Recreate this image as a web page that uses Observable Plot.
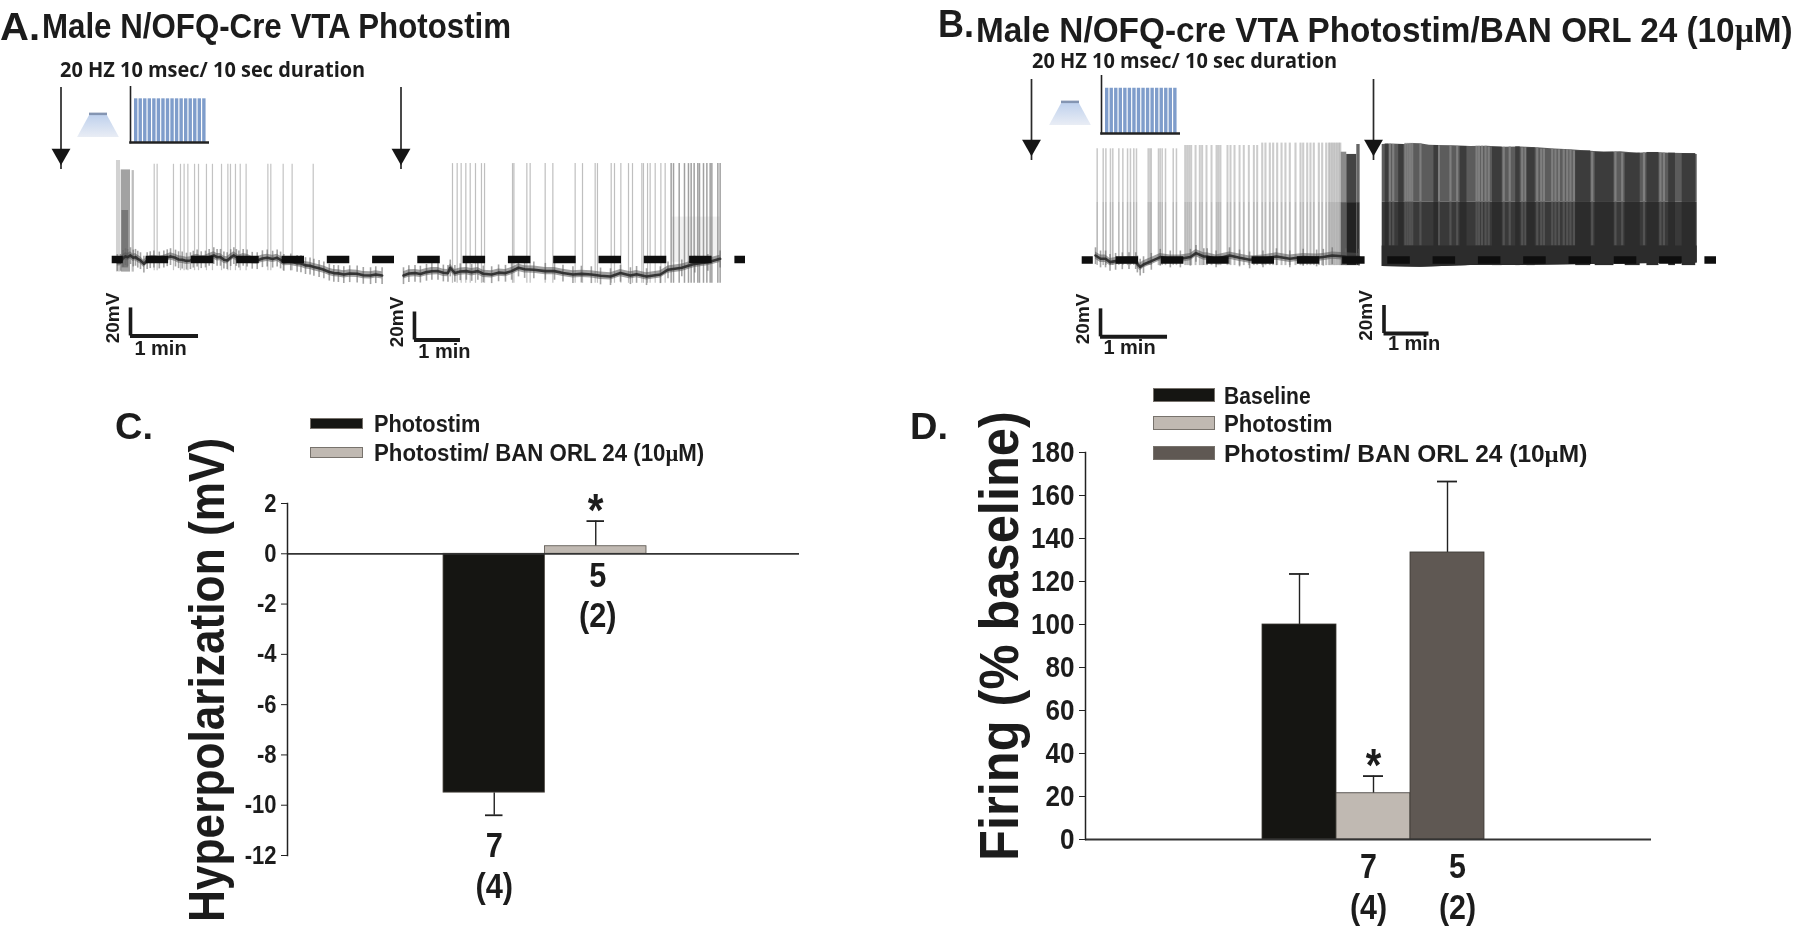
<!DOCTYPE html>
<html><head><meta charset="utf-8">
<script src="https://cdn.jsdelivr.net/npm/d3@7"></script>
<script src="https://cdn.jsdelivr.net/npm/@observablehq/plot@0.6"></script>
<style>
html,body{margin:0;background:#fff;overflow:hidden}
#fig{position:relative;width:1800px;height:931px;overflow:hidden;color:#1c1c1c;font-family:"Liberation Sans",sans-serif;filter:blur(.4px)}
#fig svg{position:absolute}
.t{position:absolute;white-space:nowrap;line-height:1;font-weight:bold}
.sw{position:absolute;box-sizing:border-box}
</style></head><body><div id="fig"></div>
<script>
// ---------- Panel A data (seconds, mV) ----------
const aLeftSpikes=[31.5,34.1,48.5,54.7,57.9,61.2,67.1,70.6,77.6,82.9,90.9,96.5,98.8,103.2,107.4,112.6,131.8,134.4,145.3,153.2,171.8];
const aLeftBaseT=[-1,1.8,4,6.2,8,10.6,13,15,17,19.4,22.4,25.3,28,31.2,36,40,43,45.9,50.3,53,56.2,60,63.5,66,69.4,73,76.8,80,84.1,87,90,93,95.9,99,101.8,104,106.2,110,113.5,118,122.4,127,131.2,136,140,143,145.9,152,157.6,161,165,169,172.4,177,181.2,186,190,194,198.8,204,210.6,216,222.4,227,232.6];
const aLeftBaseV=[-62,-61.9,-59,-57.8,-58.4,-57.1,-58.8,-58.3,-59.6,-60.7,-63.1,-60.7,-60,-59.5,-60.2,-59.5,-58.6,-57.8,-58.8,-60,-60.2,-61,-60.7,-59.6,-58.8,-60,-59.5,-58.3,-57.1,-58.4,-58.3,-60.2,-60.7,-58.5,-57.1,-58.4,-59.5,-58.4,-58.8,-60.4,-60.7,-59.3,-58.8,-59.6,-58.8,-60.2,-61.9,-61.6,-62.6,-62.9,-64.2,-64.5,-65.4,-66.3,-67.3,-68.9,-69.7,-69.9,-70.7,-70,-70.2,-71.2,-71.4,-70.7,-71.4];
const aLeftBurst=[{t1:-1.8,t2:1.8,top:10.7,shade:"#d2d2d2"},{t1:2.4,t2:10.6,top:4,shade:"#a2a2a2"},{t1:12,t2:14,top:3.5,shade:"#bdbdbd"}];
const aLeftBurstCore=[{t1:3,t2:9,top:-25,shade:"#777"}];
const aRightSpikes=[63.9,70,75.2,81.3,87,93.9,101.7,105.7,142.2,144,160.9,165.2,184.8,194.8,223.9,233.5,250,253,270.9,275.2,283.5,293.5,298.7,310.9,313,318.3,321.7,328.3,335.7,341.3];
const aRightDense=[349.1,352.2,359.6,366.5,371.7,375.2,379.1,383.9,386.1,391.3,395.7,400,402.2,410,413];
const aRightBaseT=[0,7,15,22,30,37,45,52,58,61,67,74,82,89,97,104,115,124,133,141,150,158,170,185,197,208,221,232,245,257,270,283,296,304,317,335,345,363,380,397,413];
const aRightBaseV=[-71.4,-70,-69.7,-70.3,-69,-68.4,-68.3,-69.5,-69.7,-65.9,-69.7,-68.6,-68.3,-69.1,-68.3,-70.2,-70.7,-69.4,-69.7,-68.3,-65.9,-67,-67.3,-68.3,-68.3,-69.6,-70.7,-70.3,-70.7,-71.6,-72.1,-69.7,-71.4,-70.5,-72.1,-70.7,-67.3,-65.9,-63.1,-61.9,-59.5];
const aRightHaze=[{t1:350,t2:413}];

// ---------- Panel B data (seconds, mV) ----------
const bLeftEarly=[1.5,6.9,9.3,13.4,15.5,20.9,24.5,28.7,31.3,34.3,36.7,47.2,48.7,49.9,56.4,57.9,59.7,62.7,69.6,72.5];
const bLeftMid=[80.3,82.1,83.9,85.7,89.6,93.4,95.5,99.4,103.9,108.4,110.1,111.9,118.2,120.9,124.5,129,132.8,137.3,141.8,144.8];
const bLeftLate=[149.3,152.2,156.1,159.1,162.7,166.6,170.1,174,179.1,183.6,186,189.6,192.5,195.5,200,203,206.6,209,210.4,211.9,213.4,214.9,216.4,217.9,219.2];
const bLeftBaseT=[0,4.5,9,13,18,24,30,36,37.5,40,43,50,58,67,76,85,90,97,100,108,120,129,138,150,162,174,186,198,204,212,224,236];
const bLeftBaseV=[-56.8,-59.1,-59.1,-61.5,-60.8,-60.4,-60.3,-60.3,-62.7,-65,-63.2,-60.8,-57.9,-59.1,-59.1,-57.9,-55.1,-57.5,-57.5,-59.1,-56.8,-58.4,-59.8,-59.1,-57.5,-59.1,-57.9,-58.4,-57.9,-56.8,-57.5,-57.9];
const bLeftBlock=[{t1:220,t2:225,top:17,mid:-19,hi:"#8a8a8a",lo:"#5a5a5a"},{t1:225,t2:234,top:15.4,mid:-19,hi:"#444",lo:"#222"},{t1:234,t2:237,top:22.5,mid:-19,hi:"#666",lo:"#333"}];

const bRightTopT=[0,12,29,40,51,63,73,95,118,140,162,185,207,230,251,274,296,318,340,362,384,402,420];
const bRightTopV=[22.5,22.8,22.5,23.3,23,22,21.8,21.6,21.1,21.3,20.6,20.8,20.1,19.2,18.7,17.9,17,17.4,16.3,16.8,16.3,16,15.4];
const bRightBottomT=[0,51,118,185,251,340,420];
const bRightBottomV=[-64.6,-65.1,-63.9,-63.9,-63.4,-62.7,-62.2];
const bRightMidV=-18.7;
const bRightLight=[10.2,14.7,31,34,37,40,51,75.6,91,100,125.8,128.9,133,137.8,142,162,170,186.7,191,206.7,212,215.6,226.7,231,235.6,242,246.7,251,255.6,280,311,320,349,371,375.6];
const bRightDark=[[4,9],[22,29],[69,75],[104,113],[147,160],[178,184],[193,204],[258,278],[284,309],[324,344],[353,369],[382,391],[400,418]];

// ---------- Stimulus graphic ----------
const pulses=[1,2,3,4,5,6,7,8,9,10,11,12,13,14,15,16];
const coneLevel=[0,1];
const coneHalf=[0.36,0.95];

// ---------- Bar panels ----------
const catsC=["Photostim","Photostim/ BAN ORL 24 (10µM)"];
const meanC=[-9.5,0.3];
const errC=[-10.4,1.3];
const nC=["7","5"];
const miceC=["(4)","(2)"];
const ticksC=[2,0,-2,-4,-6,-8,-10,-12];

const catsD=["Baseline","Photostim","Photostim/ BAN ORL 24 (10µM)"];
const meanD=[100,21.5,133.5];
const errD=[123.5,29.5,166.5];
const nD=["7","5"];
const miceD=["(4)","(2)"];
const ticksD=[0,20,40,60,80,100,120,140,160,180];

const black="#151512",pale="#c0b9b2",dark="#5f5853";
const coloursC=[black,pale];
const coloursD=[black,pale,dark];

// ---------- helpers ----------
const fig=document.getElementById("fig");
function zip(ts,vs){return ts.map((t,i)=>({t,v:vs[i]}));}
function label(html,x,yc,size,width,o={}){
  const s=document.createElement("span");s.className="t";s.innerHTML=html;
  s.style.fontSize=size+"px";
  if(o.font)s.style.fontFamily=o.font;
  fig.appendChild(s);
  const k=width/s.offsetWidth;
  s.style.left=x+"px";s.style.top=(yc-s.offsetHeight/2)+"px";
  s.style.transformOrigin="0 50%";
  s.style.transform=(o.rotate?"rotate(-90deg) ":"")+`scaleX(${k})`;
  return s;
}
function place(svg,left,top,blur){svg.style.left=left+"px";svg.style.top=top+"px";if(blur)svg.style.filter=`blur(${blur}px)`;fig.appendChild(svg);}
// narrows the bold tick and count labels to the reference's proportions
function squeeze(svg,k){
  svg.querySelectorAll("text").forEach(t=>{
    t.setAttribute("lengthAdjust","spacingAndGlyphs");
    t.setAttribute("textLength",t.getComputedTextLength()*k);
  });
}

const TOP=60,H=320,MV=1.4;
function trace(o){
  const{left,width,x0,pps,baseY,dash,arrow,bar,marks}=o;
  const pt=p=>(p-x0)/pps, pv=p=>-60+(baseY-p)/MV;
  const head=[{t:pt(arrow.x),v:pv(arrow.tip)+8}];
  const plot=Plot.plot({
    width,height:H,margin:0,
    x:{domain:[pt(left),pt(left+width)],range:[0,width],axis:null},
    y:{domain:[pv(TOP+H),pv(TOP)],range:[H,0],axis:null},
    style:{background:"transparent",fontFamily:"Liberation Sans",overflow:"visible"},
    marks:[
      ...marks(),
      Plot.ruleY([-60],{x1:pt(dash.from),x2:pt(dash.to),stroke:"#0e0e0e",strokeWidth:7.5,strokeDasharray:"22.5 22.8",strokeDashoffset:dash.offset}),
      Plot.ruleX([pt(arrow.x)],{y1:pv(arrow.top),y2:pv(arrow.tip+4),stroke:"#2a2a2a",strokeWidth:1.7}),
      Plot.dot(head,{x:"t",y:"v",symbol:"triangle",r:7,fill:"#151515",rotate:180}),
      Plot.ruleX([bar.t],{y1:bar.v,y2:bar.v+20,stroke:"#1a1a1a",strokeWidth:3.6}),
      Plot.ruleY([bar.v],{x1:bar.t,x2:bar.t+60,stroke:"#1a1a1a",strokeWidth:4}),
      Plot.text(["20mV"],{x:[bar.t],y:[bar.v],dx:-18,dy:-18,rotate:-90,fontSize:19,fontWeight:"bold",fill:"#1c1c1c"}),
      Plot.text(["1 min"],{x:[bar.t],y:[bar.v],dx:bar.minDx,dy:bar.minDy,fontSize:20,fontWeight:"bold",fill:"#1c1c1c"})
    ]});
  place(plot,left,TOP,.35);
}
function noiseBand(rows){
  return [
    Plot.ruleX(rows,{x:"t",y1:d=>d.v-6.5,y2:d=>d.v+5.5,stroke:"#666",strokeWidth:1.6,strokeOpacity:.6}),
    Plot.areaY(rows,{x:"t",y1:d=>d.v-2.6,y2:d=>d.v+2.6,fill:"#555",fillOpacity:.55}),
    Plot.line(rows,{x:"t",y:"v",stroke:"#2a2a2a",strokeWidth:2.6,strokeOpacity:.9})
  ];
}
function stim(left,top,width,height){
  const plot=Plot.plot({
    width,height,marginLeft:1,marginRight:0,marginTop:0,marginBottom:2,
    x:{domain:[0.3,16.8],range:[3,width-2],axis:null},
    y:{domain:[0,1],axis:null},
    style:{background:"transparent"},
    marks:[
      Plot.ruleX(pulses,{y1:0,y2:.78,stroke:"#7f9dcb",strokeWidth:3.4}),
      Plot.frame({anchor:"left",stroke:"#222",strokeWidth:1.6}),
      Plot.frame({anchor:"bottom",stroke:"#222",strokeWidth:2.6})
    ]});
  place(plot,left,top);
}
function cone(left,top,width,height,id){
  const rows=coneLevel.map((y,i)=>({y,a:-coneHalf[i],b:coneHalf[i]}));
  const plot=Plot.plot({
    width,height,margin:0,
    x:{domain:[-1,1],range:[0,width],axis:null},
    y:{domain:[-0.1,1],range:[0,height],axis:null},
    style:{background:"transparent"},
    marks:[
      ()=>{const d=d3.create("svg:defs");const g=d.append("linearGradient").attr("id",id).attr("x1",0).attr("x2",0).attr("y1",0).attr("y2",1);
        g.append("stop").attr("offset",0).attr("stop-color","#bccfec");g.append("stop").attr("offset",1).attr("stop-color","#e9edf5");return d.node();},
      Plot.areaX(rows,{y:"y",x1:"a",x2:"b",fill:`url(#${id})`}),
      Plot.ruleY([0],{x1:-.41,x2:.41,stroke:"#8495b2",strokeWidth:2.5})
    ]});
  place(plot,left,top);
}

// ---------- A traces ----------
trace({left:0,width:395,x0:118,pps:68/60,baseY:259,
  dash:{from:111.7,to:394,offset:11.4},
  arrow:{x:60.5,top:87,tip:165},
  bar:{t:10.6,v:-114.6,minDx:30,minDy:13},
  marks:()=>[
    Plot.rect(aLeftBurst,{x1:"t1",x2:"t2",y1:-69,y2:"top",fill:"shade"}),
    Plot.rect(aLeftBurstCore,{x1:"t1",x2:"t2",y1:-66,y2:"top",fill:"shade"}),
    Plot.ruleX(aLeftSpikes,{y1:-68,y2:8,stroke:"#aaa",strokeWidth:1.2,strokeOpacity:.7}),
    ...noiseBand(zip(aLeftBaseT,aLeftBaseV))
  ]});
trace({left:395,width:365,x0:403,pps:46/60,baseY:259,
  dash:{from:417.3,to:745,offset:0},
  arrow:{x:400.5,top:87,tip:165},
  bar:{t:14.3,v:-117.5,minDx:30,minDy:12},
  marks:()=>[
    Plot.rect(aRightHaze,{x1:"t1",x2:"t2",y1:-62,y2:-29.7,fill:"#777",fillOpacity:.1}),
    Plot.ruleX(aRightSpikes,{y1:-77,y2:8.5,stroke:"#a4a4a4",strokeWidth:1.2,strokeOpacity:.7}),
    Plot.ruleX(aRightDense,{y1:-77,y2:8.5,stroke:"#808080",strokeWidth:1.5,strokeOpacity:.75}),
    ...noiseBand(zip(aRightBaseT,aRightBaseV))
  ]});

// ---------- B traces ----------
trace({left:1000,width:370,x0:1095,pps:67/60,baseY:259.5,
  dash:{from:1081.7,to:1370,offset:11.4},
  arrow:{x:1031,top:79,tip:156},
  bar:{t:4.5,v:-114.9,minDx:29,minDy:11},
  marks:()=>[
    Plot.ruleX(bLeftEarly,{y1:-64,y2:19.4,stroke:"#9a9a9a",strokeWidth:1.5,strokeOpacity:.55}),
    Plot.ruleX(bLeftMid,{y1:-64,y2:21.8,stroke:"#9a9a9a",strokeWidth:2,strokeOpacity:.5}),
    Plot.ruleX(bLeftLate,{y1:-64,y2:23.5,stroke:"#9a9a9a",strokeWidth:2.1,strokeOpacity:.5}),
    Plot.ruleX([...bLeftEarly,...bLeftMid,...bLeftLate],{y1:-64,y2:-19,stroke:"#555",strokeWidth:1.6,strokeOpacity:.14}),
    Plot.rect(bLeftBlock,{x1:"t1",x2:"t2",y1:d=>d.mid,y2:"top",fill:"hi"}),
    Plot.rect(bLeftBlock,{x1:"t1",x2:"t2",y1:-64,y2:d=>d.mid,fill:"lo"}),
    ...noiseBand(zip(bLeftBaseT,bLeftBaseV))
  ]});
const ceiling=t=>bRightTopV[Math.min(d3.bisectLeft(bRightTopT,t),bRightTopV.length-1)];
trace({left:1370,width:360,x0:1381.7,pps:45/60,baseY:259.5,
  dash:{from:1387.3,to:1716,offset:0},
  arrow:{x:1373,top:79,tip:156},
  bar:{t:2.4,v:-112.5,minDx:30,minDy:10},
  marks:()=>{
    const top=zip(bRightTopT,bRightTopV),bot=zip(bRightBottomT,bRightBottomV);
    return [
      Plot.areaY(top,{x:"t",y1:bRightMidV,y2:"v",fill:"#5c5c5c"}),
      Plot.ruleX(bRightLight,{y1:bRightMidV,y2:d=>ceiling(d),stroke:"#8a8a8a",strokeWidth:2.2,strokeOpacity:.75}),
      Plot.rect(bRightDark,{x1:d=>d[0],x2:d=>d[1],y1:bRightMidV,y2:d=>ceiling(d[0]),fill:"#3c3c3c"}),
      Plot.areaY(bot,{x:"t",y1:"v",y2:bRightMidV,fill:"#393939"}),
      Plot.ruleX(bRightLight,{y1:-50,y2:bRightMidV,stroke:"#5c5c5c",strokeWidth:2.2,strokeOpacity:.7}),
      Plot.rect(bRightDark,{x1:d=>d[0],x2:d=>d[1],y1:-64,y2:bRightMidV,fill:"#2c2c2c"}),
      Plot.areaY(bot,{x:"t",y1:"v",y2:-50,fill:"#2c2c2c"})
    ];
  }});

stim(129,86,80,58);
stim(1100,75,80,60);
cone(75.6,111,44,26,"coneA");
cone(1048,99,44,26,"coneB");

// ---------- C ----------
{
 const rows=catsC.map((c,i)=>({c,m:meanC[i],e:errC[i],col:coloursC[i]}));
 const plot=Plot.plot({
  width:574,height:430,marginLeft:62,marginRight:0,marginTop:23,marginBottom:55,
  x:{type:"band",domain:catsC,range:[218,421],padding:0,round:false,axis:null},
  y:{domain:[-12,2],range:[375,23],axis:null},
  style:{background:"transparent",fontFamily:"Liberation Sans",fontWeight:"bold",color:"#1c1c1c",overflow:"visible"},
  marks:[
   Plot.ruleX(rows,{x:"c",y1:"m",y2:"e",stroke:"#222",strokeWidth:1.4}),
   Plot.tickY(rows,{x:"c",y:"e",stroke:"#222",strokeWidth:1.8,insetLeft:42,insetRight:42}),
   Plot.barY(rows,{x:"c",y:"m",fill:"col",stroke:"#55504a",strokeWidth:.8}),
   Plot.ruleY([0],{stroke:"#333",strokeWidth:1.8}),
   Plot.frame({anchor:"left",stroke:"#222",strokeWidth:1.5}),
   Plot.axisY({ticks:ticksC,tickFormat:d=>String(d),tickSize:6,tickPadding:5,fontSize:25,label:null,stroke:"#222",fill:"#1c1c1c"}),
   Plot.text([nC[0]],{x:[catsC[0]],y:[0],dy:292,fontSize:35,fill:"#1c1c1c"}),
   Plot.text([miceC[0]],{x:[catsC[0]],y:[0],dy:333,fontSize:35,fill:"#1c1c1c"}),
   Plot.text([nC[1]],{x:[catsC[1]],y:[0],dx:2,dy:22,fontSize:35,fill:"#1c1c1c"}),
   Plot.text([miceC[1]],{x:[catsC[1]],y:[0],dx:2,dy:62,fontSize:35,fill:"#1c1c1c"}),
   Plot.text(["*"],{x:[catsC[1]],y:[errC[1]],dy:-10,fontSize:46,fill:"#1c1c1c"})
  ]});
 place(plot,225,480);squeeze(plot,.88);
}
// ---------- D ----------
{
 const rows=catsD.map((c,i)=>({c,m:meanD[i],e:errD[i],col:coloursD[i]}));
 const plot=Plot.plot({
  width:641,height:500,marginLeft:75,marginRight:0,marginTop:22,marginBottom:91,
  x:{type:"band",domain:catsD,range:[252,474],padding:0,round:false,axis:null},
  y:{domain:[0,180],range:[409,22],axis:null},
  style:{background:"transparent",fontFamily:"Liberation Sans",fontWeight:"bold",color:"#1c1c1c",overflow:"visible"},
  marks:[
   Plot.ruleX(rows,{x:"c",y1:"m",y2:"e",stroke:"#222",strokeWidth:1.4}),
   Plot.tickY(rows,{x:"c",y:"e",stroke:"#222",strokeWidth:1.8,insetLeft:27,insetRight:27}),
   Plot.barY(rows,{x:"c",y:"m",fill:"col",stroke:"#3a3733",strokeWidth:.8}),
   Plot.ruleY([0],{stroke:"#333",strokeWidth:1.8}),
   Plot.frame({anchor:"left",stroke:"#222",strokeWidth:1.5}),
   Plot.axisY({ticks:ticksD,tickFormat:d=>String(d),tickSize:6,tickPadding:5,fontSize:30,label:null,stroke:"#222",fill:"#1c1c1c"}),
   Plot.text([nD[0]],{x:[catsD[1]],y:[0],dx:-5,dy:27,fontSize:35,fill:"#1c1c1c"}),
   Plot.text([miceD[0]],{x:[catsD[1]],y:[0],dx:-5,dy:68,fontSize:35,fill:"#1c1c1c"}),
   Plot.text([nD[1]],{x:[catsD[2]],y:[0],dx:10,dy:27,fontSize:35,fill:"#1c1c1c"}),
   Plot.text([miceD[1]],{x:[catsD[2]],y:[0],dx:10,dy:68,fontSize:35,fill:"#1c1c1c"}),
   Plot.text(["*"],{x:[catsD[1]],y:[errD[1]],dy:-10,fontSize:46,fill:"#1c1c1c"})
  ]});
 place(plot,1010,430);squeeze(plot,.87);
}

// ---------- text ----------
const mu='<span style="font-family:\'Liberation Serif\'">µ</span>';
label("A.",0,27,38,40);
label("Male&nbsp;N/OFQ-Cre VTA Photostim",42,25,35,469);
label("20 HZ 10 msec/ 10 sec duration",60,69,21,305,{font:"Open Sans"});
label("B.",938,24,38,36);
label(`Male&nbsp;N/OFQ-cre VTA Photostim/BAN ORL 24 (10${mu}M)`,976,30,35,817);
label("20 HZ 10 msec/ 10 sec duration",1032,60,21,305,{font:"Open Sans"});
label("C.",115,427,36,38);
label("D.",910,427,36,38);
label("Hyperpolarization (mV)",207,922,50,484,{rotate:true});
label("Firing (% baseline)",999,861,56,450,{rotate:true});

// legends
function legend(names,colours,xSw,wSw,xTx,widths,ys,hSw){
  names.forEach((n,i)=>{
    const d=document.createElement("div");d.className="sw";
    d.style.cssText=`left:${xSw}px;top:${ys[i]-hSw/2}px;width:${wSw}px;height:${hSw}px;background:${colours[i]};border:1px solid #77726c`;
    fig.appendChild(d);
    label(n.replace("µ",mu),xTx,ys[i]+1,23,widths[i]);
  });
}
legend(catsC,coloursC,310,53,374,[106,330],[423,452],11);
legend(catsD,coloursD,1153,62,1224,[87,108,363],[395,423,453],14);
</script></body></html>
